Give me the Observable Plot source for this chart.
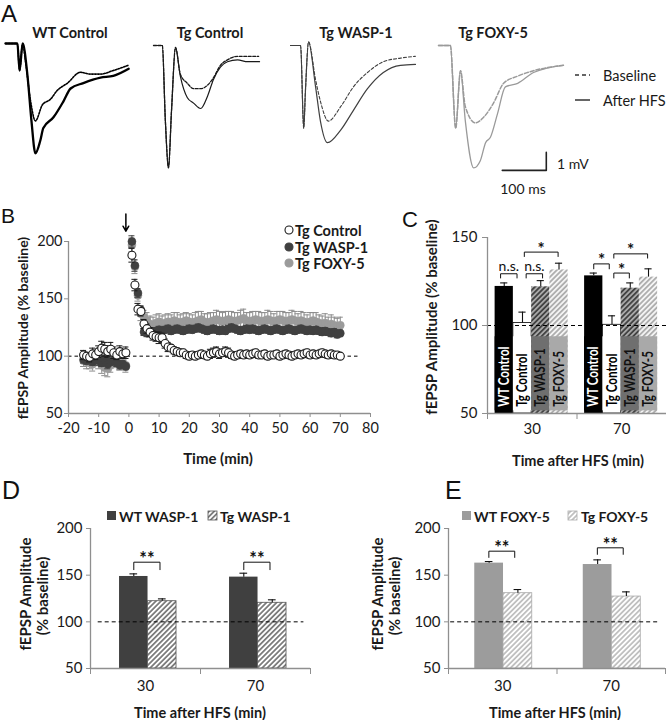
<!DOCTYPE html>
<html><head><meta charset="utf-8">
<script src="https://cdn.jsdelivr.net/npm/d3@7"></script>
<script src="https://cdn.jsdelivr.net/npm/@observablehq/plot@0.6"></script>
<style>
body{margin:0;background:#fff;}
#root{position:relative;width:666px;height:720px;overflow:hidden;font-family:Lato,"Open Sans",sans-serif;}
.p{position:absolute;}
.p svg{overflow:visible;}
.p svg [aria-label="x-axis tick"], .p svg [aria-label="y-axis tick"],
.p svg [aria-label="x-axis tick"] path, .p svg [aria-label="y-axis tick"] path,
.p svg [aria-label="x-axis"] line, .p svg [aria-label="y-axis"] line {stroke:#8f8f8f;}
</style></head><body><div id="root"></div>
<script>
// ---------------- DATA ----------------
// Panel A: traces, [time (ms), voltage (mV)] relative to trace start / baseline
const wtBaseline = [[0,0],[27,0],[32,-1.5],[39,0],[45,-0.9],[57,-3.2],[68,-4.3],[84,-3.4],[102,-3.1],[118,-2.6],[141,-2.2],[170,-1.6],[193,-1.7],[216,-1.7],[245,-1.5],[280,-1.2]];
const wtAfter    = [[0,0],[27,0],[32,-1.5],[39,0],[50,-1.8],[59,-4.3],[68,-6.1],[79,-5.4],[86,-4.7],[109,-4.1],[132,-3.2],[148,-2.5],[177,-2.2],[216,-1.9],[245,-1.8],[280,-1.4]];
const tgcBaseline = [[0,0],[20,0],[27,-4.2],[34,-6.8],[41,-3.6],[50,-0.1],[61,-1.6],[77,-2.1],[91,-2.4],[107,-2.4],[123,-2.2],[136,-1.8],[152,-1.1],[168,-0.8],[191,-0.6],[239,-0.6]];
const tgcAfter    = [[0,0],[20,0],[27,-4.2],[34,-6.8],[41,-3.6],[50,-0.1],[61,-1.7],[77,-2.9],[91,-3.2],[107,-3.5],[123,-2.8],[136,-1.9],[152,-1.2],[168,-0.9],[191,-0.8],[214,-0.9],[241,-0.9]];
const waspBaseline = [[0,0],[23,0],[30,-4.6],[34,-2.5],[41,0.2],[57,-1.9],[68,-3.1],[86,-4.2],[114,-3.4],[143,-2.3],[175,-1.5],[211,-0.9],[250,-0.7],[284,-0.6]];
const waspAfter    = [[0,0],[23,0],[30,-4.6],[34,-2.5],[41,0.2],[57,-2.3],[68,-4.2],[84,-5.4],[114,-4.7],[143,-3.6],[175,-2.4],[211,-1.5],[250,-1.1],[284,-1.05]];
const foxyBaseline = [[0,0],[27,0],[39,-4.6],[50,-1.4],[61,-3.4],[84,-4.3],[102,-4.0],[125,-3.2],[148,-2.1],[180,-1.7],[216,-1.4],[284,-1.1]];
const foxyAfter    = [[0,0],[27,0],[39,-4.6],[50,-1.4],[61,-4.2],[80,-6.8],[95,-6.4],[107,-5.4],[118,-5.1],[134,-3.8],[152,-2.3],[180,-2.1],[216,-1.5],[284,-1.1]];
const traceTitles = ["WT Control","Tg Control","Tg WASP-1","Tg FOXY-5"];
const scaleBarMs = 100, scaleBarMv = 1;
const scaleBarCorner = [245, -6.94]; // ms, mV in the FOXY-5 trace frame

// Panel B: time course
const bTime = [-15,-14,-13,-12,-11,-10,-9,-8,-7,-6,-5,-4,-3,-2,-1,
 1,2,3,4,5,6,7,8,9,10,11,12,13,14,15,16,17,18,19,20,21,22,23,24,25,26,27,28,29,30,
 31,32,33,34,35,36,37,38,39,40,41,42,43,44,45,46,47,48,49,50,51,52,53,54,55,56,57,58,59,60,
 61,62,63,64,65,66,67,68,69,70];
const ctrlMean = [101,100,99,102,101,104,107,106,104,106,103,101,104,102,103,
 188,162,141,139,128,124,121,118,117,116,
 116,111,108,107,105,104,103,103,101,100,
 101,100,101,102,101,100,102,103,104,102,
 103,104,103,101,100,101,102,101,102,101,
 102,103,101,101,102,100,101,101,102,100,
 101,102,101,100,101,102,101,102,103,101,
 102,101,102,103,102,101,102,101,101,100];
const ctrlSem = [4,3,4,5,4,5,6,6,5,6,5,4,5,4,5,
 6,5,5,4,4,4,4,4,4,5, 4,4,4,3,3,3,3,3,3,3, 3,3,3,3,3,3,4,4,4,4, 3,4,4,3,3,3,3,3,3,3,
 3,3,3,3,3,3,3,3,3,3, 3,3,3,3,3,3,3,3,3,3, 3,3,3,3,3,3,3,3,3,2];
const waspMean = [97,96,98,95,97,96,94,97,93,95,96,94,92,93,91,
 200,179,155,140,121,120,122,121,122,123,
 122,123,124,122,123,124,123,122,123,124,
 123,124,125,124,123,122,123,124,123,122,
 123,122,124,125,124,123,122,123,124,123,
 124,123,122,123,124,123,122,123,124,123,
 122,123,124,123,122,123,124,123,122,123,
 122,123,122,121,122,121,120,121,119,120];
const waspSem = [3,3,4,3,3,4,3,3,4,3,3,3,4,3,3,
 5,5,4,4,3,3,3,3,3,3, 3,3,3,3,3,3,3,3,3,3, 3,3,3,3,3,3,3,3,3,3, 3,3,3,3,3,3,3,3,3,3,
 3,3,3,3,3,3,3,3,3,3, 3,3,3,3,3,3,3,3,3,3, 3,3,3,3,3,3,3,3,3,3];
const foxyMean = [96,95,94,93,97,95,92,90,89,92,95,97,95,94,92,
 197,178,153,137,134,131,128,127,129,130,
 128,129,130,129,131,130,129,130,131,130,
 129,130,131,132,130,129,130,131,132,131,
 130,131,132,131,130,131,132,133,131,130,
 131,132,131,130,131,132,131,130,131,132,
 131,130,131,132,131,130,131,130,129,130,
 131,130,129,128,129,127,128,127,126,127];
const foxySem = [5,6,5,6,5,6,7,7,7,6,5,5,6,5,6,
 6,6,5,6,6,7,7,7,7,7, 7,7,7,7,7,8,7,7,7,7, 7,8,8,7,7,8,8,7,8,8, 8,8,7,8,8,7,8,8,7,8,
 8,7,8,8,7,8,8,7,8,7, 8,8,7,8,8,7,8,8,7,8, 7,8,7,7,8,7,8,7,7,7];
const bSeriesNames = ["Tg Control","Tg WASP-1","Tg FOXY-5"];
const bTicksX = [-20,-10,0,10,20,30,40,50,60,70,80];
const bTicksY = [50,100,150,200];
const hfsTime = -1;
const hfsArrow = [{t: hfsTime, from: 224, to: 209}];

// Panel C
const cGroups = ["30","70"];
const cCategories = ["WT Control","Tg Control","Tg WASP-1","Tg FOXY-5"];
const cMean30 = [122.2, 101.4, 122.0, 131.6];
const cSem30  = [2.0, 6.2, 3.5, 3.8];
const cMean70 = [128.2, 100.4, 121.2, 127.5];
const cSem70  = [1.6, 5.1, 3.0, 4.7];
const cTicksY = [50,100,150];
// brackets: group index, span in bar units, level, label
const cBrackets = [
 {g:0, from:0.3, to:1.2, level:129.4, leg:2.4, label:"n.s."},
 {g:0, from:1.7, to:2.6, level:129.4, leg:2.4, label:"n.s."},
 {g:0, from:1.6, to:3.45, level:141.7, leg:2.5, label:"*"},
 {g:1, from:0.5, to:1.35, level:135.0, leg:2.8, label:"*"},
 {g:1, from:1.6, to:2.45, level:129.8, leg:2.8, label:"*"},
 {g:1, from:1.6, to:3.45, level:140.7, leg:2.4, label:"*"}
];

// Panel D
const dGroups = ["30","70"];
const dCategories = ["WT WASP-1","Tg WASP-1"];
const dMean30 = [148.6, 122.1], dSem30 = [2.8, 2.5];
const dMean70 = [147.9, 120.4], dSem70 = [4.2, 3.2];
const dBrackets = [{g:0, from:0.5, to:1.42, level:163.9, leg:8, label:"**"},{g:1, from:0.5, to:1.42, level:163.9, leg:8, label:"**"}];
// Panel E
const eGroups = ["30","70"];
const eCategories = ["WT FOXY-5","Tg FOXY-5"];
const eMean30 = [162.9, 130.7], eSem30 = [1.7, 3.9];
const eMean70 = [161.4, 127.1], eSem70 = [5.0, 5.0];
const eBrackets = [{g:0, from:0.49, to:1.39, level:175.7, leg:6.7, label:"**"},{g:1, from:0.49, to:1.39, level:179.3, leg:7, label:"**"}];
const deTicksY = [50,100,150,200];

// ---------------- STYLES / LAYOUT ----------------
const FONT = "Lato, 'Open Sans', sans-serif";
const AX = "#8f8f8f";
const root = document.getElementById("root");
function place(node, left, top, w) {
  const div = document.createElement("div");
  div.className = "p";
  div.style.left = left + "px"; div.style.top = top + "px";
  if (w) div.style.width = w + "px";
  div.appendChild(node); root.appendChild(div);
  return node;
}
// hatch patterns
const defsSvg = d3.select(root).append("svg").attr("width",0).attr("height",0).style("position","absolute");
const defs = defsSvg.append("defs");
function hatch(id, bg, stripe, w, p) {
  const pat = defs.append("pattern").attr("id", id).attr("patternUnits","userSpaceOnUse")
    .attr("width", p).attr("height", p).attr("patternTransform","rotate(45)");
  pat.append("rect").attr("width", p).attr("height", p).attr("fill", bg);
  pat.append("line").attr("x1", p/2).attr("y1", 0).attr("x2", p/2).attr("y2", p).attr("stroke", stripe).attr("stroke-width", w);
}
hatch("hWaspC", "#a8a8a8", "#2e2e2e", 1.5, 3.6);
hatch("hFoxyC", "#f4f4f4", "#a0a0a0", 1.5, 3.6);
hatch("hWaspD", "#ffffff", "#4a4a4a", 1.3, 3.6);
hatch("hFoxyE", "#ffffff", "#a8a8a8", 1.3, 3.6);

// ---------------- PANEL A ----------------
const traceStyle = [
  {color:"#000", base:{w:1.6, dash:"1.6,1.4"}, after:{w:2.3}},
  {color:"#1a1a1a", base:{w:1.3, dash:"3,1.5"}, after:{w:1.2}},
  {color:"#3f3f3f", base:{w:1.1, dash:"3,2"}, after:{w:1.2}},
  {color:"#9a9a9a", base:{w:1.5, dash:"4,2"}, after:{w:1.3}}
];
const traceOrigin = [[5,43],[153,45],[290,45],[438,45]];
const traceSets = [[wtBaseline, wtAfter],[tgcBaseline, tgcAfter],[waspBaseline, waspAfter],[foxyBaseline, foxyAfter]];
traceSets.forEach(([base, after], i) => {
  const st = traceStyle[i];
  const marks = [
    Plot.line(base, {x: d=>d[0], y: d=>d[1], stroke: st.color, strokeWidth: st.base.w, strokeDasharray: st.base.dash, curve: "monotone-x"}),
    Plot.line(after, {x: d=>d[0], y: d=>d[1], stroke: st.color, strokeWidth: st.after.w, curve: "monotone-x"})
  ];
  if (i === 3) {
    const [cx, cy] = scaleBarCorner;
    marks.push(Plot.line([[cx - scaleBarMs, cy],[cx, cy],[cx, cy + scaleBarMv]], {x: d=>d[0], y: d=>d[1], stroke: "#222", strokeWidth: 1.6}));
  }
  const svg = Plot.plot({
    width: 132, height: 144, margin: 0,
    x: {domain: [0, 300], axis: null},
    y: {domain: [-7.5, 0.5], axis: null},
    style: {overflow: "visible", background: "transparent"},
    marks
  });
  place(svg, traceOrigin[i][0], traceOrigin[i][1] - 9, 132);
});

// ---------------- PANEL B ----------------
const bSeries = [
  {name:"Tg FOXY-5", mean: foxyMean, sem: foxySem, fill:"#9b9b9b", stroke:"#9b9b9b", err:"#8c8c8c", sw:0.5},
  {name:"Tg WASP-1", mean: waspMean, sem: waspSem, fill:"#404040", stroke:"#404040", err:"#404040", sw:0.5},
  {name:"Tg Control", mean: ctrlMean, sem: ctrlSem, fill:"#fff", stroke:"#1a1a1a", err:"#1a1a1a", sw:1.1}
];
const CAP = 1;
const bMarks = [
  Plot.ruleY([100], {x1: -20, x2: 76, stroke: "#000", strokeWidth: 1, strokeDasharray: "3.5,3"}),
];
for (const s of bSeries) {
  const rows = bTime.map((t, i) => ({t, m: s.mean[i], e: s.sem[i]}));
  bMarks.push(
    Plot.ruleX(rows, {x: "t", y1: d=>d.m - d.e, y2: d=>d.m + d.e, stroke: s.err, strokeWidth: 1}),
    Plot.ruleY(rows, {y: d=>d.m + d.e, x1: d=>d.t - CAP, x2: d=>d.t + CAP, stroke: s.err, strokeWidth: 1}),
    Plot.ruleY(rows, {y: d=>d.m - d.e, x1: d=>d.t - CAP, x2: d=>d.t + CAP, stroke: s.err, strokeWidth: 1}),
    Plot.dot(rows, {x: "t", y: "m", r: 4, fill: s.fill, stroke: s.stroke, strokeWidth: s.sw})
  );
}
bMarks.push(
  Plot.ruleX([-20], {y1: 50, y2: 200, stroke: AX, strokeWidth: 1.3}),
  Plot.ruleY([50], {x1: -20, x2: 80, stroke: AX, strokeWidth: 1.3}),
  Plot.arrow(hfsArrow, {x1: "t", x2: "t", y1: "from", y2: "to", stroke: "#000", strokeWidth: 1.5, headLength: 6})
);
place(Plot.plot({
  width: 380, height: 263, marginLeft: 68, marginRight: 10, marginTop: 41, marginBottom: 50,
  x: {domain: [-20, 80], ticks: bTicksX, tickSize: 4, tickPadding: 5, tickFormat: d => String(d), label: null},
  y: {domain: [50, 200], ticks: bTicksY, tickSize: 4, tickPadding: 2, label: null},
  style: {fontFamily: FONT, fontSize: "14.5px", color: "#1a1a1a", overflow: "visible", background: "transparent"},
  marks: bMarks
}), 0, 200, 380);

// ---------------- BAR PANELS ----------------
function barPanel(cfg) {
  const {groups, categories, means, sems, start, bw, styles, brackets, yDomain, yTicks, labelBars, dashSpan, capHalf, xLabelDy, starSize} = cfg;
  const xPos = (g, pos) => g + start + pos * bw;
  const rows = groups.flatMap((g, gi) => categories.map((c, i) => ({g, gi, c, i, mean: means[gi][i], sem: sems[gi][i]})));
  const marks = [
    Plot.rectY(rows, {x1: d=>xPos(d.gi, d.i), x2: d=>xPos(d.gi, d.i + 1), y1: yDomain[0], y2: "mean",
      fill: d=>styles[d.c].fill, stroke: d=>styles[d.c].stroke, strokeWidth: 0.8})
  ];
  if (labelBars) {
    marks.push(
      Plot.rectY(rows, {x1: d=>xPos(d.gi, d.i), x2: d=>xPos(d.gi, d.i + 1), y1: labelBars.box[0], y2: labelBars.box[1], fill: d=>styles[d.c].box}),
      Plot.text(rows, {x: d=>xPos(d.gi, d.i + 0.5), y: labelBars.y, text: "c", rotate: -90, textAnchor: "start",
        fill: d=>styles[d.c].text, fontWeight: "bold", fontSize: labelBars.size, ariaDescription: "bar-labels"})
    );
  }
  const pts = brackets.flatMap((b, k) => {
    const x1 = xPos(b.g, b.from), x2 = xPos(b.g, b.to);
    return [{k, x: x1, y: b.level - b.leg}, {k, x: x1, y: b.level}, {k, x: x2, y: b.level}, {k, x: x2, y: b.level - b.leg}];
  });
  marks.push(
    Plot.ruleY([100], {x1: dashSpan[0], x2: dashSpan[1], stroke: "#000", strokeWidth: 1, strokeDasharray: "4,3"}),
    Plot.ruleX(rows, {x: d=>xPos(d.gi, d.i + 0.5), y1: "mean", y2: d=>d.mean + d.sem, stroke: "#111", strokeWidth: 1.1}),
    Plot.ruleY(rows, {y: d=>d.mean + d.sem, x1: d=>xPos(d.gi, d.i + 0.5) - capHalf, x2: d=>xPos(d.gi, d.i + 0.5) + capHalf, stroke: "#111", strokeWidth: 1.1}),
    Plot.line(pts, {x: "x", y: "y", z: "k", stroke: "#111", strokeWidth: 1}),
    Plot.text(brackets.filter(b => b.label === "n.s."), {x: b=>xPos(b.g, (b.from + b.to)/2), y: "level", text: "label", dy: -7, fontSize: 14, fill: "#111"}),
    Plot.text(brackets.filter(b => b.label !== "n.s."), {x: b=>xPos(b.g, (b.from + b.to)/2), y: "level", text: "label", dy: -3, fontSize: starSize, fontWeight: "bold", fill: "#111"}),
    Plot.ruleX([0], {y1: yDomain[0], y2: yDomain[1], stroke: AX, strokeWidth: 1.3}),
    Plot.ruleY([yDomain[0]], {x1: 0, x2: groups.length, stroke: AX, strokeWidth: 1.3}),
    Plot.text(groups, {x: (d, i) => i + 0.5, frameAnchor: "bottom", dy: xLabelDy, text: d => d, fontSize: 15, fill: "#1a1a1a"})
  );
  return Plot.plot({
    width: cfg.width, height: cfg.height, marginLeft: cfg.ml, marginRight: cfg.mr, marginTop: cfg.mt, marginBottom: cfg.mb,
    x: {domain: [0, groups.length], ticks: [0, 1, 2], tickSize: 6, tickFormat: () => "", label: null},
    y: {domain: yDomain, ticks: yTicks, tickSize: cfg.yTickSize, tickPadding: cfg.yTickPad, label: null},
    color: {type: "identity"},
    style: {fontFamily: FONT, fontSize: "15px", color: "#1a1a1a", overflow: "visible", background: "transparent"},
    marks
  });
}
// Panel C
const cSvg = place(barPanel({
  groups: cGroups, categories: cCategories, means: [cMean30, cMean70], sems: [cSem30, cSem70],
  start: 0.085, bw: 0.204, capHalf: 0.04, xLabelDy: 20, starSize: 17,
  styles: {
    "WT Control": {fill: "#000", stroke: "none", box: "#000", text: "#fff"},
    "Tg Control": {fill: "#fff", stroke: "#000", box: "#fff", text: "#000"},
    "Tg WASP-1": {fill: "url(#hWaspC)", stroke: "none", box: "#6f6f6f", text: "#111"},
    "Tg FOXY-5": {fill: "url(#hFoxyC)", stroke: "none", box: "#a9a9a9", text: "#111"}
  },
  labelBars: {box: [51.5, 93.6], y: 53.8, size: 14.5},
  brackets: cBrackets, yDomain: [50, 150], yTicks: cTicksY, dashSpan: [0, 2],
  width: 286, height: 243, ml: 107, mr: 0, mt: 37, mb: 30, yTickSize: 5, yTickPad: 5
}), 380, 200, 286);
// condense the in-bar labels so they fit inside their label boxes (like the narrow original font)
d3.select(cSvg).selectAll('[aria-description="bar-labels"] text').each(function() {
  const L = this.getComputedTextLength();
  const target = Math.min(L * 0.8, 68);
  this.setAttribute("textLength", target);
  this.setAttribute("lengthAdjust", "spacingAndGlyphs");
});
// Panel D
place(barPanel({
  groups: dGroups, categories: dCategories, means: [dMean30, dMean70], sems: [dSem30, dSem70],
  start: 0.264, bw: 0.259, capHalf: 0.035, xLabelDy: 22, starSize: 18,
  styles: {
    "WT WASP-1": {fill: "#404040", stroke: "none"},
    "Tg WASP-1": {fill: "url(#hWaspD)", stroke: "#555"}
  },
  brackets: dBrackets, yDomain: [50, 200], yTicks: deTicksY, dashSpan: [0.07, 1.94],
  width: 330, height: 215, ml: 90, mr: 20, mt: 23, mb: 52, yTickSize: 4, yTickPad: 4
}), 0, 505, 330);
// Panel E
place(barPanel({
  groups: eGroups, categories: eCategories, means: [eMean30, eMean70], sems: [eSem30, eSem70],
  start: 0.242, bw: 0.265, capHalf: 0.035, xLabelDy: 22, starSize: 18,
  styles: {
    "WT FOXY-5": {fill: "#9c9c9c", stroke: "none"},
    "Tg FOXY-5": {fill: "url(#hFoxyE)", stroke: "#aaa"}
  },
  brackets: eBrackets, yDomain: [50, 200], yTicks: deTicksY, dashSpan: [0.02, 1.94],
  width: 326, height: 215, ml: 108, mr: 1, mt: 23, mb: 52, yTickSize: 4, yTickPad: 4
}), 340, 505, 326);

// ---------------- TEXT OVERLAY ----------------
const ov = d3.select(root).append("svg").attr("width", 666).attr("height", 720)
  .style("position", "absolute").style("left", 0).style("top", 0).style("font-family", FONT);
function T(x, y, s, o = {}) {
  const t = ov.append("text").attr("x", x).attr("y", y).text(s)
    .attr("font-size", o.size || 15).attr("font-weight", o.weight || "normal")
    .attr("text-anchor", o.anchor || "start").attr("fill", o.fill || "#1a1a1a")
    .attr("dominant-baseline", o.base || "central");
  if (o.family) t.attr("font-family", o.family);
  if (o.rotate) t.attr("transform", `rotate(${o.rotate},${x},${y})`);
  return t;
}
const LET = "'Liberation Sans', Arial, sans-serif";
T(1, 22, "A", {size: 24, family: LET, base: "alphabetic", fill: "#111"});
T(1, 223, "B", {size: 21, family: LET, base: "alphabetic", fill: "#111"});
T(402, 226.5, "C", {size: 22, family: LET, base: "alphabetic", fill: "#111"});
T(2, 499, "D", {size: 25, family: LET, base: "alphabetic", fill: "#111"});
T(445, 499, "E", {size: 25, family: LET, base: "alphabetic", fill: "#111"});
// A titles and legend
[70, 210, 356, 493].forEach((x, i) => T(x, 32, traceTitles[i], {size: 14.5, weight: "bold", anchor: "middle"}));
ov.append("line").attr("x1", 575).attr("x2", 590).attr("y1", 75).attr("y2", 75).attr("stroke", "#333").attr("stroke-width", 1.5).attr("stroke-dasharray", "4,3");
ov.append("line").attr("x1", 575).attr("x2", 590).attr("y1", 100).attr("y2", 100).attr("stroke", "#333").attr("stroke-width", 1.5);
T(603, 75, "Baseline", {size: 14.5});
T(603, 100, "After HFS", {size: 14.5});
T(557, 163, "1 mV", {size: 14});
T(523, 188, "100 ms", {size: 14, anchor: "middle"});
// B labels and legend
T(22, 328, "fEPSP Amplitude (% baseline)", {size: 14, weight: "bold", anchor: "middle", rotate: -90});
T(218, 458, "Time (min)", {size: 15, weight: "bold", anchor: "middle"});
const bLeg = [{y: 230, fill: "#fff", stroke: "#1a1a1a"}, {y: 247, fill: "#404040", stroke: "#404040"}, {y: 263, fill: "#9b9b9b", stroke: "#9b9b9b"}];
bLeg.forEach((l, i) => {
  ov.append("circle").attr("cx", 289).attr("cy", l.y).attr("r", 4).attr("fill", l.fill).attr("stroke", l.stroke).attr("stroke-width", 1.1);
  T(295, l.y, bSeriesNames[i], {size: 14.5, weight: "bold"});
});
// C labels
T(431, 317, "fEPSP Amplitude (% baseline)", {size: 15, weight: "bold", anchor: "middle", rotate: -90});
T(578, 460, "Time after HFS (min)", {size: 14.5, weight: "bold", anchor: "middle"});
// D labels/legend
T(25, 594, "fEPSP Amplitude", {size: 15, weight: "bold", anchor: "middle", rotate: -90});
T(42, 596, "(% baseline)", {size: 15, weight: "bold", anchor: "middle", rotate: -90});
T(200, 712, "Time after HFS (min)", {size: 14.5, weight: "bold", anchor: "middle"});
ov.append("rect").attr("x", 107).attr("y", 511).attr("width", 9).attr("height", 9).attr("fill", "#404040");
T(119, 516, dCategories[0], {size: 14, weight: "bold"});
ov.append("rect").attr("x", 208).attr("y", 511).attr("width", 9).attr("height", 9).attr("fill", "url(#hWaspD)").attr("stroke", "#555").attr("stroke-width", 0.8);
T(220, 516, dCategories[1], {size: 14, weight: "bold"});
// E labels/legend
T(377, 594, "fEPSP Amplitude", {size: 15, weight: "bold", anchor: "middle", rotate: -90});
T(394, 596, "(% baseline)", {size: 15, weight: "bold", anchor: "middle", rotate: -90});
T(555, 712, "Time after HFS (min)", {size: 14.5, weight: "bold", anchor: "middle"});
ov.append("rect").attr("x", 462).attr("y", 511).attr("width", 9).attr("height", 9).attr("fill", "#9c9c9c");
T(474, 516, eCategories[0], {size: 14, weight: "bold"});
ov.append("rect").attr("x", 568).attr("y", 511).attr("width", 9).attr("height", 9).attr("fill", "url(#hFoxyE)").attr("stroke", "#aaa").attr("stroke-width", 0.8);
T(581, 516, eCategories[1], {size: 14, weight: "bold"});
</script>
</body></html>
